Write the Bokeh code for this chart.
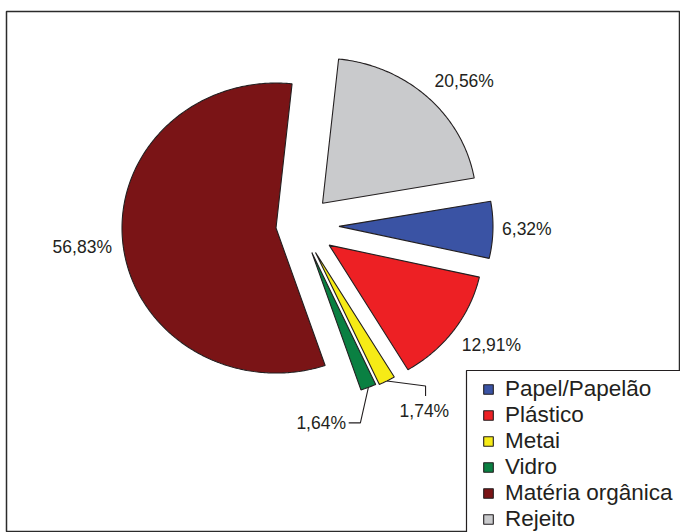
import numpy as np
from bokeh.plotting import figure
from bokeh.models import Range1d, ColumnDataSource, Legend, LegendItem
from bokeh.embed import file_html
from bokeh.resources import INLINE
from bokeh.core.properties import value

# ---- data ----
categories = ["Papel/Papelão", "Plástico", "Metai", "Vidro", "Matéria orgânica", "Rejeito"]
shares = [6.32, 12.91, 1.74, 1.64, 56.83, 20.56]
pct_labels = ["6,32%", "12,91%", "1,74%", "1,64%", "56,83%", "20,56%"]

# ---- style ----
colors = ["#3A53A4", "#ED2024", "#F6EB16", "#0A8042", "#7A1416", "#C9CACC"]
explode = [0.25, 0.23, 0.21, 0.20, 0.16, 0.21]
label_k = [1.22, 1.26, 1.30, 1.18, 1.265, 1.25]
label_dtheta = [-0.5, -2.7, -5.3, 18.6, 0.3, 4.4]
leaders = [None, None, (1.2, -24.7, 1.2, -14.7), (39.2, -0.5, 27.5, -0.5), None, None]
START = 80.0
CX, CY, RX, RY = 300.0, 225.0, 154.0, 145.0
INK = "#231F20"
FONT = "Liberation Sans"


def direction(theta_deg, r=1.0):
    t = np.radians(theta_deg)
    return np.sin(t) * RX * r, -np.cos(t) * RY * r


total = float(sum(shares))
xs, ys = [], []
lab_x, lab_y = [], []
lead_xs, lead_ys = [], []
a0 = START
for i, s in enumerate(shares):
    span = 360.0 * s / total
    a1 = a0 + span
    mid = (a0 + a1) / 2
    ox, oy = direction(mid, explode[i])
    vx, vy = CX + ox, CY + oy
    n = max(8, int(span * 1.5))
    th = np.linspace(a0, a1, n)
    px, py = direction(th)
    xs.append(list(np.concatenate([[vx], vx + px, [vx]])))
    ys.append(list(np.concatenate([[vy], vy + py, [vy]])))
    lx, ly = direction(mid + label_dtheta[i], label_k[i])
    lab_x.append(vx + lx)
    lab_y.append(vy + ly)
    if leaders[i] is not None:
        sx, sy = direction(mid, 1.0)
        d = leaders[i]
        lead_xs.append([vx + sx, vx + lx + d[0], vx + lx + d[2]])
        lead_ys.append([vy + sy, vy + ly + d[1], vy + ly + d[3]])
    a0 = a1

p = figure(width=680, height=532,
           x_range=Range1d(6, 680), y_range=Range1d(532, 11),
           output_backend="svg", toolbar_location=None,
           x_axis_location=None, y_axis_location=None,
           min_border_left=6, min_border_right=0, min_border_bottom=0, min_border_top=11,
           outline_line_color="#2b2b2b", outline_line_width=1.5,
           background_fill_color="white", border_fill_color="white")
p.grid.visible = False

src = ColumnDataSource(dict(xs=xs, ys=ys, color=colors, name=categories))
r = p.patches("xs", "ys", source=src, fill_color="color", line_color=INK,
              line_width=1.1)

p.multi_line(lead_xs, lead_ys, line_color=INK, line_width=1.1)

p.text(x=lab_x, y=lab_y, text=pct_labels, text_align="center", text_baseline="middle",
       text_font=value(FONT), text_font_size="17.5px", text_color=INK)

# legend frame
p.quad(left=[466], right=[700], top=[370], bottom=[600], fill_color="white",
       line_color=INK, line_width=1.2)

items = [LegendItem(label=c, renderers=[r], index=i) for i, c in enumerate(categories)]
legend = Legend(items=items, location=(476, 0), padding=0, margin=0,
                border_line_color=None, background_fill_alpha=0,
                label_text_font=FONT, label_text_font_size="22.5px",
                label_text_line_height=1.0,
                label_text_color=INK, glyph_width=12, glyph_height=12,
                label_standoff=11, spacing=0, label_height=26)
p.add_layout(legend)

open("out.html", "w").write(file_html(p, INLINE))
